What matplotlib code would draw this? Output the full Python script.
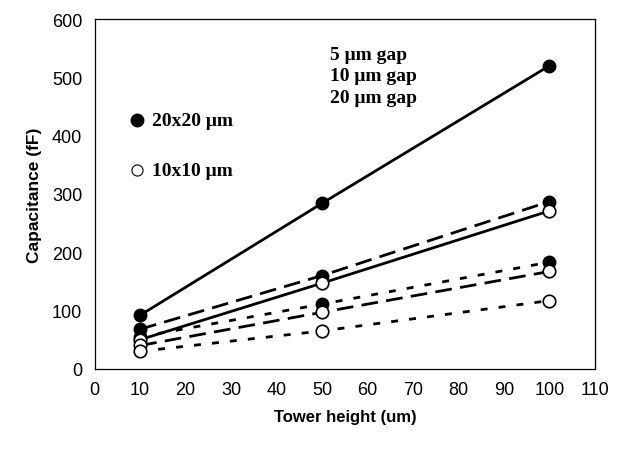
import numpy as np
import matplotlib.pyplot as plt

# tower height (um)
height = [10, 50, 100]
# capacitance (fF), 20x20 um pads
big_5um = [92, 284, 520]
big_10um = [68, 160, 287]
big_20um = [55, 111, 183]
# capacitance (fF), 10x10 um pads
small_5um = [50, 147, 271]
small_10um = [40, 97, 167]
small_20um = [30, 65, 117]

gap_labels = ["5 μm gap", "10 μm gap", "20 μm gap"]
size_labels = ["20x20 μm", "10x10 μm"]

plt.rcParams['font.family'] = ['Liberation Sans', 'DejaVu Sans']

fig = plt.figure(figsize=(6.23, 4.56), dpi=100)
ax = fig.add_axes([0.152, 0.189, 0.803, 0.767])

styles = ['-', (0, (6, 3)), (0, (2.5, 4))]
for vals, ls in zip([big_5um, big_10um, big_20um], styles):
    ax.plot(height, vals, color='black', lw=2, linestyle=ls,
            marker='o', ms=9, mfc='black', mec='black')
for vals, ls in zip([small_5um, small_10um, small_20um], styles):
    ax.plot(height, vals, color='black', lw=2, linestyle=ls,
            marker='o', ms=9, mfc='white', mec='black', mew=1.2)

ax.set_xlim(0, 110)
ax.set_ylim(0, 600)
ax.set_xticks(np.arange(0, 111, 10))
ax.set_yticks(np.arange(0, 601, 100))
ax.tick_params(length=0, labelsize=13, pad=9)
for s in ax.spines.values():
    s.set_linewidth(0.9)

ax.set_xlabel("Tower height (um)", fontsize=12, fontweight='bold', labelpad=8)
ax.set_ylabel("Capacitance (fF)", fontsize=12.5, fontweight='bold', labelpad=7)

serif = dict(family='Liberation Serif', fontweight='bold', fontsize=14)
for i, t in enumerate(gap_labels):
    ax.text(0.47, 0.90 - i * 0.062, t, transform=ax.transAxes, va='center', **serif)

ax.plot([0.085], [0.711], 'o', ms=9, color='black', transform=ax.transAxes)
ax.text(0.115, 0.711, size_labels[0], transform=ax.transAxes, va='center', **serif)
ax.plot([0.085], [0.568], 'o', ms=8, mfc='white', mec='black', mew=0.8,
        transform=ax.transAxes)
ax.text(0.115, 0.568, size_labels[1], transform=ax.transAxes, va='center', **serif)

fig.savefig("out.png", dpi=100)
